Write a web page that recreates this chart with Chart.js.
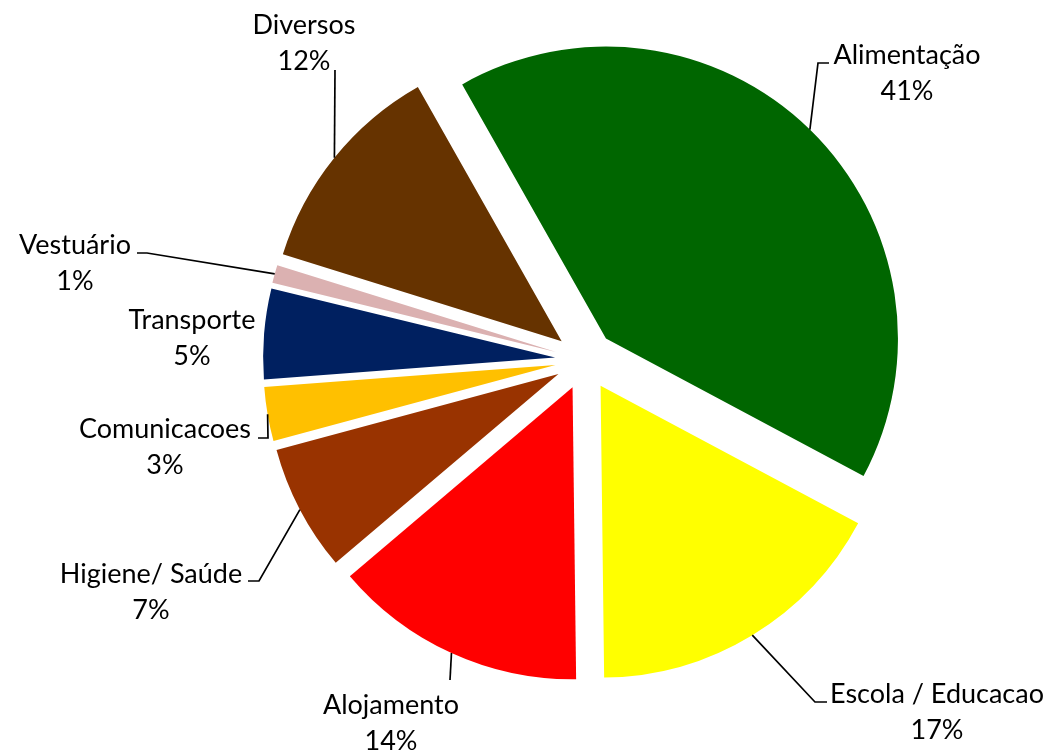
<!DOCTYPE html>
<html>
<head>
<meta charset="utf-8">
<script src="https://cdn.jsdelivr.net/npm/chart.js@4.4.0/dist/chart.umd.min.js"></script>
<style>
  html, body { margin: 0; padding: 0; background: #fff; }
  #wrap { width: 1047px; height: 754px; position: relative; }
</style>
</head>
<body>
<div id="wrap"><canvas id="grafico"></canvas></div>
<script>
// Dados do grafico (sentido horario a partir de Alimentação)
const categorias = ['Alimentação', 'Escola / Educacao', 'Alojamento', 'Higiene/ Saúde', 'Comunicacoes', 'Transporte', 'Vestuário', 'Diversos'];
const percentagens = [41, 17, 14, 7, 3, 5, 1, 12];
const cores = ['#006600', '#FFFF00', '#FF0000', '#993300', '#FFC000', '#002060', '#DBB1B1', '#663300'];

// Posicao das etiquetas e das linhas de chamada (so layout)
const etiquetas = [
    { x: 907, y: 64,  linha: [[818, 63], [829, 63]] },
    { x: 937, y: 703, linha: [[815, 702], [827, 702]] },
    { x: 391, y: 714, linha: [[450, 680]] },
    { x: 151, y: 583, linha: [[259, 581], [248, 581]] },
    { x: 165, y: 438, linha: [[268, 438], [258, 438]] },
    { x: 192, y: 329, linha: null },
    { x: 75,  y: 254, linha: [[147, 253], [137, 253]] },
    { x: 304, y: 34,  linha: [[335, 70]] }
];

const EXPLODIR = 30; // afastamento das fatias em px
const FONTE = '27px Lato';

// Desenha as fatias afastadas do centro (sem aumentar o raio das fatias pequenas)
const fatiasExplodidas = {
    id: 'fatiasExplodidas',
    beforeDatasetDraw(chart, args) {
        const ctx = chart.ctx;
        args.meta.data.forEach(arc => {
            const meio = (arc.startAngle + arc.endAngle) / 2;
            ctx.save();
            ctx.translate(Math.cos(meio) * EXPLODIR, Math.sin(meio) * EXPLODIR);
            arc.draw(ctx);
            ctx.restore();
        });
        return false;
    }
};

// Etiquetas com nome e percentagem + linhas de chamada
const etiquetasPlugin = {
    id: 'etiquetasPlugin',
    afterDraw(chart) {
        const ctx = chart.ctx;
        const arcs = chart.getDatasetMeta(0).data;
        const total = percentagens.reduce((a, b) => a + b, 0);
        ctx.save();
        ctx.font = FONTE;
        ctx.fillStyle = '#000';
        ctx.strokeStyle = '#000';
        ctx.lineWidth = 1.7;
        ctx.textAlign = 'center';
        ctx.textBaseline = 'alphabetic';
        arcs.forEach((arc, i) => {
            const e = etiquetas[i];
            const meio = (arc.startAngle + arc.endAngle) / 2;
            const r = arc.outerRadius + EXPLODIR;
            if (e.linha) {
                ctx.beginPath();
                ctx.moveTo(arc.x + Math.cos(meio) * r, arc.y + Math.sin(meio) * r);
                e.linha.forEach(p => ctx.lineTo(p[0], p[1]));
                ctx.stroke();
            }
            ctx.fillText(categorias[i], e.x, e.y);
            ctx.fillText(Math.round(percentagens[i] / total * 100) + '%', e.x, e.y + 36);
        });
        ctx.restore();
    }
};

new Chart(document.getElementById('grafico'), {
    type: 'pie',
    data: {
        labels: categorias,
        datasets: [{
            data: percentagens,
            backgroundColor: cores,
            borderWidth: 0
        }]
    },
    options: {
        responsive: true,
        maintainAspectRatio: false,
        animation: false,
        events: [],
        rotation: -29.5,
        layout: { padding: { left: 293, right: 170, top: 68, bottom: 102 } },
        plugins: {
            legend: { display: false },
            tooltip: { enabled: false }
        }
    },
    plugins: [fatiasExplodidas, etiquetasPlugin]
});
</script>
</body>
</html>
